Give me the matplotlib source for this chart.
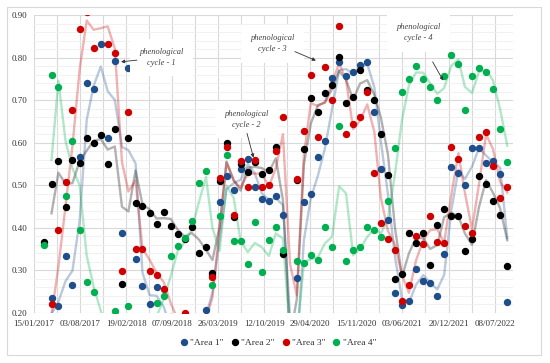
import numpy as np
import pandas as pd
import matplotlib
matplotlib.use("Agg")
import matplotlib.pyplot as plt
import matplotlib.dates as mdates
from matplotlib.lines import Line2D
from matplotlib.patches import Rectangle

# monthly observations, Mar 2017 - Sep 2022
dates = pd.date_range("2017-03-01", periods=67, freq="MS").to_pydatetime()

area1 = [0.160, 0.236, 0.217, 0.333, 0.266, 0.567, 0.741, 0.726, 0.832, 0.610,
         0.791, 0.389, 0.776, 0.327, 0.263, 0.221, 0.260, 0.170, 0.160, 0.150,
         0.160, 0.170, 0.180, 0.207, 0.290, 0.460, 0.522, 0.488, 0.538, 0.561,
         0.495, 0.468, 0.464, 0.476, 0.431, -0.050, 0.282, 0.460, 0.479, 0.567,
         0.605, 0.752, 0.789, 0.757, 0.767, 0.782, 0.789, 0.671, 0.538, 0.419,
         0.248, 0.218, 0.229, 0.304, 0.274, 0.270, 0.241, 0.338, 0.544, 0.528,
         0.501, 0.587, 0.587, 0.553, 0.556, 0.527, 0.225]
area2 = [0.366, 0.502, 0.557, 0.450, 0.560, 0.553, 0.610, 0.599, 0.618, 0.550,
         0.632, 0.267, 0.610, 0.459, 0.452, 0.435, 0.409, 0.437, 0.405, 0.386,
         0.373, 0.403, 0.342, 0.354, 0.295, 0.511, 0.600, 0.425, 0.550, 0.532,
         0.555, 0.526, 0.536, 0.591, 0.339, -0.050, 0.513, 0.585, 0.705, 0.672,
         0.716, 0.736, 0.802, 0.694, 0.708, 0.770, 0.724, 0.700, 0.620, 0.525,
         0.280, 0.291, 0.389, 0.364, 0.388, 0.313, 0.406, 0.444, 0.427, 0.428,
         0.346, 0.374, 0.522, 0.503, 0.462, 0.431, 0.311]
area3 = [0.170, 0.222, 0.395, 0.508, 0.677, 0.866, 0.908, 0.823, 0.915, 0.832,
         0.810, 0.299, 0.672, 0.351, 0.351, 0.299, 0.290, 0.256, 0.190, 0.180,
         0.201, 0.180, 0.180, 0.190, 0.284, 0.517, 0.590, 0.431, 0.558, 0.495,
         0.560, 0.495, 0.500, 0.580, 0.660, -0.030, 0.514, 0.628, 0.758, 0.614,
         0.777, 0.700, 0.875, 0.620, 0.644, 0.660, 0.720, 0.530, 0.412, 0.374,
         0.348, 0.229, 0.266, 0.381, 0.361, 0.428, 0.366, 0.364, 0.590, 0.561,
         0.405, 0.389, 0.614, 0.625, 0.546, 0.470, 0.496]
area4 = [0.359, 0.759, 0.732, 0.475, 0.605, 0.395, 0.273, 0.250, 0.160, 0.150,
         0.204, 0.150, 0.217, 0.160, 0.150, 0.160, 0.223, 0.241, 0.333, 0.358,
         0.377, 0.416, 0.505, 0.534, 0.265, 0.427, 0.571, 0.370, 0.370, 0.316,
         0.413, 0.296, 0.372, 0.402, 0.348, -0.050, 0.321, 0.317, 0.337, 0.325,
         0.402, 0.356, 0.639, 0.323, 0.348, 0.354, 0.403, 0.395, 0.378, 0.463,
         0.587, 0.720, 0.750, 0.780, 0.749, 0.730, 0.700, 0.757, 0.805, 0.786,
         0.677, 0.757, 0.776, 0.767, 0.726, 0.632, 0.554]

series = [area1, area2, area3, area4]
labels = ['"Area 1"', '"Area 2"', '"Area 3"', '"Area 4"']
colors = ["#1F4E8C", "#000000", "#D00000", "#00B050"]

# annotations: (text, text pos, arrow start, arrow tip) as (days from start, value)
notes = [
    ("phenological\ncycle - 1", (555, 0.800), (447, 0.794), (378, 0.790)),
    ("phenological\ncycle - 2", (923, 0.655), (925, 0.622), (953, 0.565)),
    ("phenological\ncycle - 3", (1036, 0.832), (1133, 0.814), (1224, 0.793)),
    ("phenological\ncycle - 4", (1669, 0.858), (1731, 0.790), (1777, 0.746)),
]

plt.rcParams["font.family"] = ["Liberation Serif", "DejaVu Serif"]

fig = plt.figure(figsize=(5.5, 3.63), dpi=100)
ax = fig.add_axes([34 / 550, 1 - 313 / 363, (513 - 34) / 550, (313 - 15) / 363])

start = pd.Timestamp("2017-01-15")
day = lambda d: (start + pd.Timedelta(days=d)).to_pydatetime()

# 2-period moving average trendlines, then the points on top
for vals, c in zip(series, colors):
    ma = pd.Series(vals).rolling(2).mean()
    ax.plot(dates, ma, color=c, alpha=0.3, lw=1.7, zorder=2)
for vals, c in zip(series, colors):
    ax.plot(dates, vals, "o", ms=4.3, color=c, mec=c, zorder=4)

ax.set_xlim(day(0), day(2080))
ax.set_ylim(0.2, 0.9)
ax.set_xticks([day(200 * k) for k in range(11)])
ax.set_xticks([day(100 + 200 * k) for k in range(10)], minor=True)
ax.xaxis.set_major_formatter(mdates.DateFormatter("%d/%m/%Y"))
yt = np.round(np.arange(0.2, 0.91, 0.1), 2)
ax.set_yticks(yt)
ax.set_yticklabels(["%.2f" % v for v in yt])
ax.set_yticks(np.arange(0.2, 0.9, 0.02), minor=True)

ax.grid(which="major", color="#D9D9D9", lw=0.8, zorder=0)
ax.grid(which="minor", axis="y", color="#EFEFEF", lw=0.6, zorder=0)
ax.grid(which="minor", axis="x", color="#D9D9D9", lw=0.8, zorder=0)
ax.set_axisbelow(True)
for s in ax.spines.values():
    s.set_visible(False)
ax.tick_params(which="both", length=0, labelsize=6.5, colors="#333333")
ax.tick_params(axis="x", pad=5)
ax.tick_params(axis="y", pad=5)

for txt, tpos, a0, a1 in notes:
    ax.text(day(tpos[0]), tpos[1], txt, ha="center", va="center", fontsize=6,
            style="italic", color="#404040", linespacing=1.5, zorder=6,
            bbox=dict(boxstyle="square,pad=1.1", fc="white", ec="none"))
    ax.annotate("", xy=(day(a1[0]), a1[1]), xytext=(day(a0[0]), a0[1]),
                arrowprops=dict(arrowstyle="-|>", color="#333333", lw=0.6,
                                mutation_scale=5, shrinkA=0, shrinkB=0),
                zorder=7)

handles = [Line2D([], [], marker="o", ls="", ms=4.3, color=c) for c in colors]
fig.legend(handles, labels, loc="center", bbox_to_anchor=(277 / 550, 1 - 343 / 363),
           ncol=4, frameon=False, fontsize=6.8, handletextpad=0.05,
           handlelength=1.2, columnspacing=0.6, labelcolor="#333333")

fig.patches.append(Rectangle((7 / 550, 1 - 355 / 363), (541 - 7) / 550, (355 - 7) / 363,
                             transform=fig.transFigure, fill=False,
                             edgecolor="#D9D9D9", lw=0.8))

fig.savefig("out.png", dpi=100)
